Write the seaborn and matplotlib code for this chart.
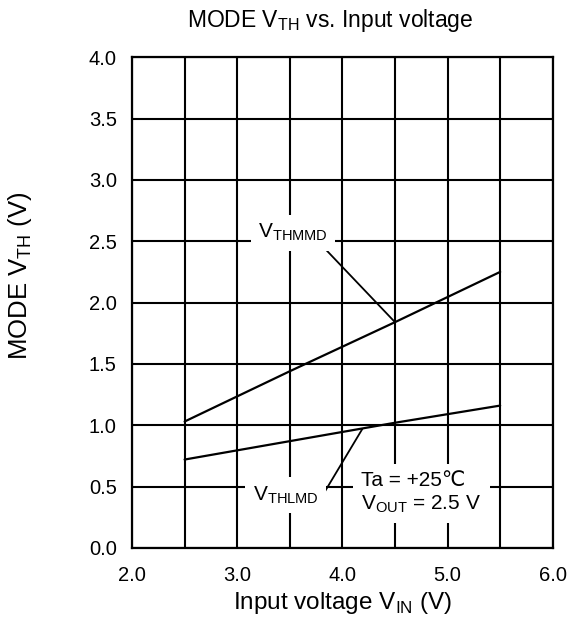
import matplotlib
matplotlib.use("Agg")
import matplotlib.pyplot as plt
import numpy as np
import pandas as pd
import seaborn as sns

# Data
vin = [2.5, 3.5, 4.5, 5.5]
vthmmd = [1.03, 1.44, 1.84, 2.25]
vthlmd = [0.72, 0.87, 1.02, 1.16]

df = pd.DataFrame({
    'VIN': vin * 2,
    'VTH': vthmmd + vthlmd,
    'Series': ['VTHMMD'] * len(vin) + ['VTHLMD'] * len(vin),
})

sns.set_style("white")
plt.rcParams['font.family'] = ['Liberation Sans', 'DejaVu Sans']
plt.rcParams['mathtext.fontset'] = 'custom'
plt.rcParams['mathtext.rm'] = 'Liberation Sans'
plt.rcParams['text.color'] = 'black'
plt.rcParams['axes.labelcolor'] = 'black'

fig = plt.figure(figsize=(5.74, 6.29), dpi=100)
ax = fig.add_axes([0.230, 0.129, 0.733, 0.780])

sns.lineplot(data=df, x='VIN', y='VTH', hue='Series',
             palette=['black', 'black'], linewidth=1.6, legend=False, ax=ax)

ax.set_xlim(2.0, 6.0)
ax.set_ylim(0.0, 4.0)
ax.set_xticks(np.arange(2.0, 6.01, 1.0))
ax.set_xticks(np.arange(2.5, 6.0, 1.0), minor=True)
ax.set_yticks(np.arange(0.0, 4.01, 0.5))
ax.set_xticklabels([f'{v:.1f}' for v in np.arange(2.0, 6.01, 1.0)])
ax.set_yticklabels([f'{v:.1f}' for v in np.arange(0.0, 4.01, 0.5)])
ax.grid(True, which='both', color='black', linewidth=1.5)
ax.set_axisbelow(True)
ax.tick_params(axis='both', which='both', length=0, labelsize=14.5, colors='black')
ax.tick_params(axis='x', pad=13)
ax.tick_params(axis='y', pad=11)
for s in ax.spines.values():
    s.set_color('black')
    s.set_linewidth(1.6)

ax.set_title('MODE V$_{\\mathregular{TH}}$ vs. Input voltage', fontsize=16.5, pad=22, x=0.47)
ax.set_xlabel('Input voltage V$_{\\mathregular{IN}}$ (V)', fontsize=17.5, labelpad=4)
ax.set_ylabel('MODE V$_{\\mathregular{TH}}$ (V)', fontsize=18.5)
ax.yaxis.set_label_coords(-0.232, 0.555)

ax.annotate('', xy=(4.5, 1.84), xytext=(3.8, 2.47),
            arrowprops=dict(arrowstyle='-', color='black', lw=1.3, shrinkA=0, shrinkB=0))
ax.annotate('', xy=(4.19, 0.97), xytext=(3.82, 0.44),
            arrowprops=dict(arrowstyle='-', color='black', lw=1.3, shrinkA=0, shrinkB=0))
ax.text(3.53, 2.57, 'V$_{\\mathregular{THMMD}}$', fontsize=15, ha='center', va='center',
        bbox=dict(facecolor='white', edgecolor='none', boxstyle='square,pad=0.35'))
ax.text(3.46, 0.43, 'V$_{\\mathregular{THLMD}}$', fontsize=15, ha='center', va='center',
        bbox=dict(facecolor='white', edgecolor='none', boxstyle='square,pad=0.35'))
ax.text(4.18, 0.45, 'Ta = +25\u2103\nV$_{\\mathregular{OUT}}$ = 2.5 V', fontsize=15,
        ha='left', va='center', linespacing=1.2,
        bbox=dict(facecolor='white', edgecolor='none', boxstyle='square,pad=0.4'))

fig.savefig('out.png', dpi=100)
plt.close('all')
